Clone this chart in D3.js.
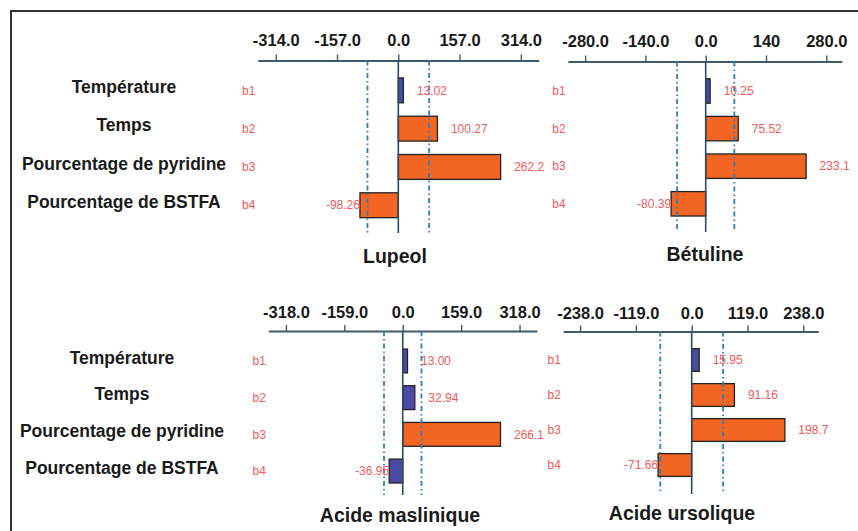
<!DOCTYPE html>
<html><head><meta charset="utf-8">
<script src="https://cdn.jsdelivr.net/npm/d3@7"></script>
<style>body{margin:0;background:#fff}svg{display:block}</style>
</head><body>
<svg id="c" width="858" height="531"></svg>
<script>
// ---- data ----
const factors = ["Température", "Temps", "Pourcentage de pyridine", "Pourcentage de BSTFA"];
const coefNames = ["b1", "b2", "b3", "b4"];
const compounds = ["Lupeol", "Bétuline", "Acide maslinique", "Acide ursolique"];
const lupeolEffects = [13.02, 100.27, 262.2, -98.26];
const betulineEffects = [10.25, 75.52, 233.1, -80.39];
const maslinicEffects = [13.00, 32.94, 266.1, -36.95];
const ursolicEffects = [15.95, 91.16, 198.7, -71.66];
const lupeolTicks = [-314, -157, 0, 157, 314];
const betulineTicks = [-280, -140, 0, 140, 280];
const maslinicTicks = [-318, -159, 0, 159, 318];
const ursolicTicks = [-238, -119, 0, 119, 238];
const lupeolTickLabels = ["-314.0", "-157.0", "0.0", "157.0", "314.0"];
const betulineTickLabels = ["-280.0", "-140.0", "0.0", "140", "280.0"];
const maslinicTickLabels = ["-318.0", "-159.0", "0.0", "159.0", "318.0"];
const ursolicTickLabels = ["-238.0", "-119.0", "0.0", "119.0", "238.0"];
const significanceLimits = [79, 66.5, 51, 67];

// ---- layout ----
const effects = [lupeolEffects, betulineEffects, maslinicEffects, ursolicEffects];
const ticks = [lupeolTicks, betulineTicks, maslinicTicks, ursolicTicks];
const tickLabels = [lupeolTickLabels, betulineTickLabels, maslinicTickLabels, ursolicTickLabels];
const layout = [
  {dom: [-360, 360], rng: [257.8, 538.8], axisY: 60.5, band: [71.2, 224.4], bottom: 233, pad: 9, tx: 395, ty: 263},
  {dom: [-320, 316], rng: [567.9, 841.8], axisY: 61.5, band: [72.2, 222.6], bottom: 232, pad: 9, tx: 705, ty: 261},
  {dom: [-366, 365], rng: [268.3, 536.8], axisY: 331, band: [342.6, 489.4], bottom: 495, pad: 7, tx: 400, ty: 522},
  {dom: [-274, 270], rng: [563.2, 818.3], axisY: 331.5, band: [342.5, 482.5], bottom: 494, pad: 7, tx: 682, ty: 520}
];
const ORANGE = "#f26522", BLUE = "#4b4ba6", RED = "#f05a5a";
const svg = d3.select("#c");

// frame
svg.append("path").attr("d", "M11,540V11H858").attr("fill", "none")
  .attr("stroke", "#333").attr("stroke-width", 2);

const fmt = v => Math.abs(v) >= 150 ? v.toFixed(1) : v.toFixed(2);

layout.forEach((L, p) => {
  const g = svg.append("g");
  const x = d3.scaleLinear().domain(L.dom).range(L.rng);
  const y = d3.scaleBand().domain(coefNames).range(L.band).paddingInner(0.35).paddingOuter(0.175);
  const vals = effects[p];
  const thr = significanceLimits[p];

  // axis
  const ax = g.append("g").attr("transform", `translate(0,${L.axisY})`)
    .call(d3.axisTop(x).tickValues(ticks[p]).tickFormat((d, i) => tickLabels[p][i])
      .tickSize(6).tickSizeOuter(0).tickPadding(L.pad));
  ax.select(".domain").attr("stroke", "#3d5b6b").attr("stroke-width", 2);
  ax.selectAll(".tick line").attr("stroke", "#3d5b6b").attr("stroke-width", 1.4);
  ax.selectAll(".tick text").attr("fill", "#1a1a1a").attr("font-family", "Liberation Sans, Arial, sans-serif")
    .attr("font-weight", "bold").attr("font-size", 16.5).attr("dy", 0);

  // bars
  g.selectAll("rect.bar").data(vals).join("rect")
    .attr("x", d => x(Math.min(0, d))).attr("width", d => Math.abs(x(d) - x(0)))
    .attr("y", (d, i) => y(coefNames[i])).attr("height", y.bandwidth())
    .attr("fill", d => Math.abs(d) < thr ? BLUE : ORANGE)
    .attr("stroke", "#222").attr("stroke-width", 1.3);

  // zero line
  g.append("line").attr("x1", x(0)).attr("x2", x(0)).attr("y1", L.axisY).attr("y2", L.bottom)
    .attr("stroke", "#2b4a5e").attr("stroke-width", 1.6);
  // significance limits
  [-thr, thr].forEach(t => {
    g.append("line").attr("x1", x(t)).attr("x2", x(t)).attr("y1", L.axisY).attr("y2", L.bottom)
      .attr("stroke", "#2f7fb5").attr("stroke-width", 1.8).attr("stroke-dasharray", "5,3,1.5,3");
  });

  // coefficient names
  g.selectAll("text.coef").data(coefNames).join("text")
    .attr("x", L.rng[0] - 9).attr("y", d => y(d) + y.bandwidth() / 2).attr("dy", "0.35em")
    .attr("text-anchor", "middle").attr("fill", RED)
    .attr("font-family", "Liberation Sans, Arial, sans-serif").attr("font-size", 12).text(d => d);

  // value labels
  g.selectAll("text.val").data(vals).join("text")
    .attr("x", d => d >= 0 ? x(d) + 13.5 : x(d))
    .attr("y", (d, i) => y(coefNames[i]) + y.bandwidth() / 2).attr("dy", "0.35em")
    .attr("text-anchor", d => d >= 0 ? "start" : "end").attr("fill", RED)
    .attr("font-family", "Liberation Sans, Arial, sans-serif").attr("font-size", 12).text(fmt);

  // title
  g.append("text").attr("x", L.tx).attr("y", L.ty).attr("text-anchor", "middle")
    .attr("font-family", "Liberation Sans, Arial, sans-serif").attr("font-weight", "bold")
    .attr("font-size", 19.5).attr("fill", "#1a1a1a").text(compounds[p]);

  // factor labels on left (for left panels)
  if (p % 2 === 0) {
    svg.selectAll(null).data(factors).join("text")
      .attr("x", p === 0 ? 124 : 122)
      .attr("y", (d, i) => y(coefNames[i]) + y.bandwidth() / 2 - 3.5).attr("dy", "0.35em")
      .attr("text-anchor", "middle").attr("fill", "#1a1a1a")
      .attr("font-family", "Liberation Sans, Arial, sans-serif").attr("font-weight", "bold")
      .attr("font-size", 17.5).text(d => d);
  }
});
</script>
</body></html>
